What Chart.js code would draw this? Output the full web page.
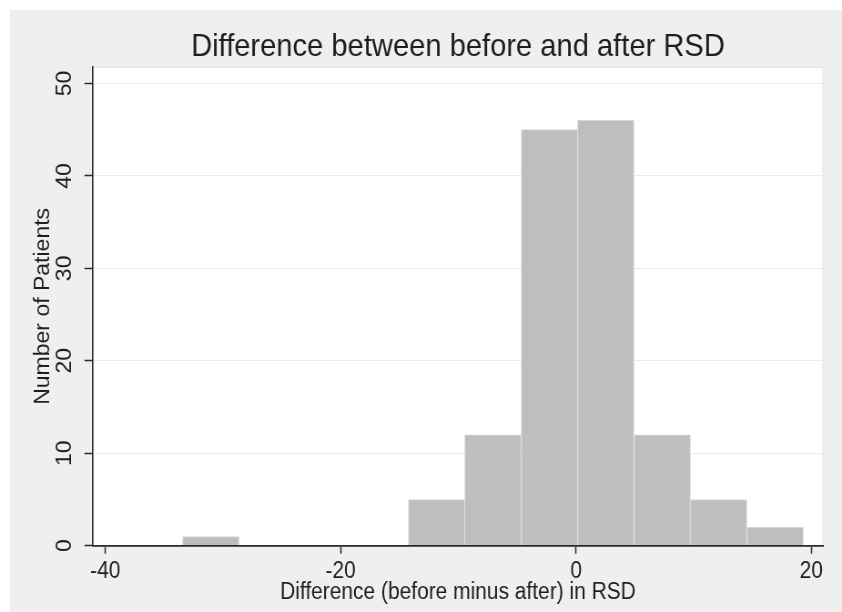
<!DOCTYPE html>
<html>
<head>
<meta charset="utf-8">
<script src="https://cdn.jsdelivr.net/npm/chart.js@4/dist/chart.umd.min.js"></script>
<style>
	body { margin: 0; background: #ffffff; }
</style>
</head>
<body>
<!-- drawn a bit wider then squeezed to 842px, like the reference picture -->
<canvas id="myChart" width="925" height="612" style="width:842px;height:612px;"></canvas>
<script>
	// histogram bins (centers, width ~4.8) and counts
	var binCenters = [-31.03, -26.24, -21.44, -16.65, -11.85, -7.06, -2.26, 2.53, 7.33, 12.12, 16.92];
	var patients = [1, 0, 0, 0, 5, 12, 45, 46, 12, 5, 2];
	var xTicks = [-40, -20, 0, 20];
	var yTicks = [0, 10, 20, 30, 40, 50];

	var fontFamily = "'Liberation Sans', Arial, sans-serif";
	var textColor = '#1e1e1e';

	var points = [];
	binCenters.forEach((c, index)=> {
		points.push({x: c, y: patients[index]});
	});

	// gray page, white plot region
	var background = {
		id: 'background',
		beforeDraw: function(chart){
			var ctx = chart.ctx;
			var a = chart.chartArea;
			ctx.save();
			ctx.fillStyle = '#ffffff';
			ctx.fillRect(0, 0, chart.width, chart.height);
			ctx.fillStyle = '#efefef';
			ctx.fillRect(11, 10, chart.width - 11, chart.height - 10);
			ctx.fillStyle = '#ffffff';
			ctx.fillRect(a.left, a.top, a.right - a.left, a.bottom - a.top);
			ctx.strokeStyle = '#e6e6e6';
			ctx.lineWidth = 1;
			ctx.strokeRect(a.left, a.top + 0.5, a.right - a.left - 0.5, a.bottom - a.top);
			ctx.restore();
		}
	};

	var ctx = document.getElementById('myChart').getContext('2d');

	window.chart_main = new Chart(ctx, {
		type: 'bar',
		data: {
			datasets: [{
				label: 'Number of Patients',
				data: points,
				backgroundColor: '#bebebe',
				borderColor: '#d8d8d8',
				borderWidth: 1,
				barPercentage: 1,
				categoryPercentage: 1
			}]
		},
		plugins: [background],
		options: {
			responsive: false,
			animation: false,
			devicePixelRatio: 1,
			layout: {
				padding: {left: 0, right: 20.6, top: 0, bottom: 0}
			},
			plugins: {
				legend: {display: false},
				tooltip: {enabled: false},
				title: {
					display: true,
					text: 'Difference between before and after RSD',
					fullSize: false,
					color: textColor,
					font: {family: fontFamily, size: 32, weight: 'normal'},
					padding: {top: 27.5, bottom: 1.1}
				}
			},
			scales: {
				x: {
					type: 'linear',
					min: -41.07,
					max: 21.01,
					offset: false,
					afterFit: function(scale){ scale.height = 66.3; },
					afterBuildTicks: function(scale){
						scale.ticks = xTicks.map(v => ({value: v}));
					},
					grid: {
						offset: false,
						drawOnChartArea: false,
						tickColor: '#2a2a2a',
						tickLength: 8,
						tickWidth: 1.5
					},
					border: {color: '#2a2a2a', width: 1.8, z: 1},
					ticks: {
						color: textColor,
						padding: 4.5,
						maxRotation: 0,
						font: {family: fontFamily, size: 23}
					},
					title: {
						display: true,
						text: 'Difference (before minus after) in RSD',
						color: textColor,
						font: {family: fontFamily, size: 23},
						padding: {top: 0, bottom: 5.7}
					}
				},
				y: {
					min: 0,
					max: 51.78,
					afterFit: function(scale){ scale.width = 101.8; },
					afterBuildTicks: function(scale){
						scale.ticks = yTicks.map(v => ({value: v}));
					},
					grid: {
						color: '#ebebeb',
						lineWidth: 1,
						tickColor: '#2a2a2a',
						tickLength: 9,
						tickWidth: 1.5
					},
					border: {color: '#2a2a2a', width: 1.6, z: 1},
					ticks: {
						color: textColor,
						minRotation: 90,
						maxRotation: 90,
						crossAlign: 'center',
						padding: 8,
						font: {family: fontFamily, size: 23}
					},
					title: {
						display: true,
						text: 'Number of Patients',
						color: textColor,
						font: {family: fontFamily, size: 23},
						padding: {top: 33.4, bottom: 0}
					}
				}
			}
		}
	});
</script>
</body>
</html>
